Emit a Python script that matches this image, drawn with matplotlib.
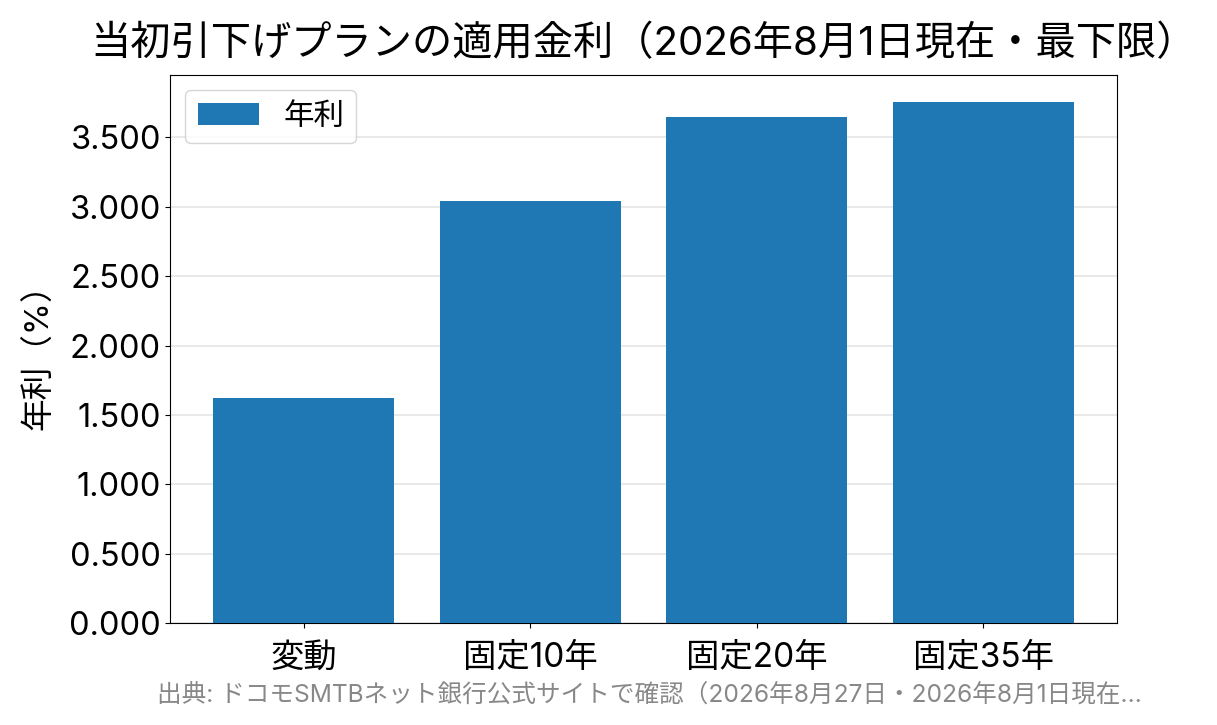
import matplotlib
matplotlib.use("Agg")
import matplotlib.pyplot as plt
from matplotlib.ticker import FormatStrFormatter

plt.rcParams['font.family'] = ['Inter', 'Noto Sans CJK JP', 'DejaVu Sans']

categories = ["変動", "固定10年", "固定20年", "固定35年"]
rates = [1.625, 3.045, 3.65, 3.755]
series_label = "年利"
title = "当初引下げプランの適用金利（2026年8月1日現在・最下限）"
ylabel = "年利（%）"
source = "出典: ドコモSMTBネット銀行公式サイトで確認（2026年8月27日・2026年8月1日現在…"

fig = plt.figure(figsize=(12.17, 7.25), dpi=100)
ax = fig.add_axes([170/1217, 1 - 623/725, (1117-170)/1217, (623-75)/725])
ax.bar(categories, rates, color="#1f77b4", width=0.8, label=series_label, zorder=3)
ax.set_ylim(0, 3.95)
ax.yaxis.set_major_formatter(FormatStrFormatter('%.3f'))
ax.grid(axis='y', color='#e5e5e5', linewidth=1.2, zorder=0)
ax.tick_params(axis='y', labelsize=23.5, pad=3)
ax.tick_params(axis='x', labelsize=24, pad=10)
ax.set_ylabel(ylabel, fontsize=23.5, labelpad=10)
ax.set_title(title, fontsize=29, pad=14)
ax.legend(loc='upper left', fontsize=22)
fig.text((170 + 1117) / 2 / 1217 + 0.005, 1 - 695/725, source, ha='center', va='center',
         fontsize=17.7, color='#888888')
fig.savefig("out.png", dpi=100)
